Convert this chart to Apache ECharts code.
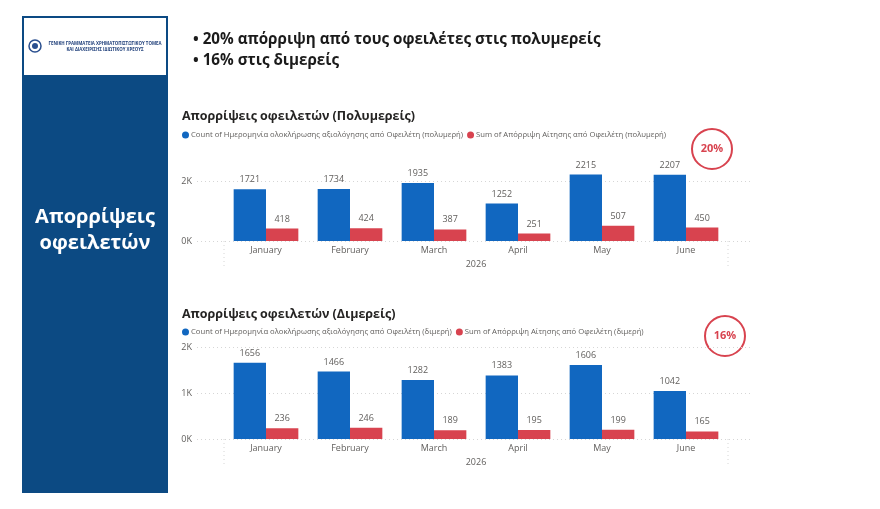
<!DOCTYPE html>
<html>
<head>
<meta charset="utf-8">
<title>Απορρίψεις οφειλετών</title>
<script src="https://cdn.jsdelivr.net/npm/echarts@6/dist/echarts.min.js"></script>
<style>
  html, body { margin: 0; padding: 0; background: #ffffff; }
  #main { width: 880px; height: 509px; }
</style>
</head>
<body>
<div id="main"></div>
<script>
// δεδομένα
var months = ['January', 'February', 'March', 'April', 'May', 'June'];
var yearLabel = '2026';

var countPoly = [1721, 1734, 1935, 1252, 2215, 2207];
var rejectPoly = [418, 424, 387, 251, 507, 450];
var countDi = [1656, 1466, 1282, 1383, 1606, 1042];
var rejectDi = [236, 246, 189, 195, 199, 165];

var ticksPoly = ['0K', '2K'];
var ticksDi = ['0K', '1K', '2K'];

var namePolyCount = 'Count of Ημερομηνία ολοκλήρωσης αξιολόγησης από Οφειλέτη (πολυμερή)';
var namePolyReject = 'Sum of Απόρριψη Αίτησης από Οφειλέτη (πολυμερή)';
var nameDiCount = 'Count of Ημερομηνία ολοκλήρωσης αξιολόγησης από Οφειλέτη (διμερή)';
var nameDiReject = 'Sum of Απόρριψη Αίτησης από Οφειλέτη (διμερή)';

var BLUE = '#1167c0';
var RED = '#d8434f';
var NAVY = '#0c4a83';
var GREY = '#605e5c';
var FONT = '"Open Sans", "Noto Sans", sans-serif';

var myChart = echarts.init(document.getElementById('main'));

function labelCfg() {
    return { show: true, position: 'top', distance: 5, color: GREY, fontSize: 9, fontFamily: FONT };
}

// γραμμές πλέγματος (ευρύτερες από την περιοχή των ράβδων)
function gridAxis(idx, ticks, interval) {
    return {
        gridIndex: idx, type: 'value', min: 0, max: 2000, interval: interval,
        axisLabel: {
            color: GREY, fontSize: 9, fontFamily: FONT, margin: 5,
            formatter: function (v) { return ticks[v / interval]; }
        },
        axisLine: { show: false }, axisTick: { show: false },
        splitLine: { show: true, lineStyle: { color: '#d6d6d6', type: [1, 3] } }
    };
}
function hiddenY(idx, max) {
    return { gridIndex: idx, type: 'value', min: 0, max: max, show: false, splitLine: { show: false } };
}
function catAxis(idx) {
    return {
        gridIndex: idx, type: 'category', data: months,
        axisLine: { show: false }, axisTick: { show: false },
        axisLabel: { color: GREY, fontSize: 9, fontFamily: FONT, margin: 5 },
        name: yearLabel, nameLocation: 'middle', nameGap: 19,
        nameTextStyle: { color: GREY, fontSize: 9, fontFamily: FONT }
    };
}
function dottedV(x, y1, y2) {
    return { type: 'line', shape: { x1: x, y1: y1, x2: x, y2: y2 },
        style: { stroke: '#d6d6d6', lineWidth: 1, lineDash: [1, 3] } };
}
function badge(cx, cy, txt) {
    return [
        { type: 'circle', shape: { cx: cx, cy: cy, r: 20 },
          style: { fill: '#fff', stroke: RED, lineWidth: 2 } },
        { type: 'text', x: cx, y: cy,
          style: { text: txt, fill: RED, font: 'bold 11px ' + FONT, align: 'center', verticalAlign: 'middle' } }
    ];
}
function legendCfg(names, top) {
    return { data: names, left: 177, top: top, icon: 'circle',
        itemWidth: 7, itemHeight: 7, itemGap: 4,
        textStyle: { color: GREY, fontSize: 7.7, fontFamily: FONT, padding: [0, 0, 0, -3] } };
}

var option = {
    backgroundColor: '#ffffff',
    animation: false,
    title: [
        { text: 'Απορρίψεις οφειλετών (Πολυμερείς)', left: 177, top: 105,
          textStyle: { color: '#252423', fontSize: 12.5, fontWeight: 'bold', fontFamily: FONT } },
        { text: 'Απορρίψεις οφειλετών (Διμερείς)', left: 177, top: 303,
          textStyle: { color: '#252423', fontSize: 12.5, fontWeight: 'bold', fontFamily: FONT } }
    ],
    legend: [
        legendCfg([namePolyCount, namePolyReject], 126),
        legendCfg([nameDiCount, nameDiReject], 323)
    ],
    grid: [
        { left: 197, right: 128, top: 181, height: 60 },
        { left: 224, width: 504, top: 166, height: 75 },
        { left: 197, right: 128, top: 347, height: 92 },
        { left: 224, width: 504, top: 347, height: 92 }
    ],
    xAxis: [
        { gridIndex: 0, type: 'category', show: false },
        catAxis(1),
        { gridIndex: 2, type: 'category', show: false },
        catAxis(3)
    ],
    yAxis: [
        gridAxis(0, ticksPoly, 2000),
        hiddenY(1, 2500),
        gridAxis(2, ticksDi, 1000),
        hiddenY(3, 2000)
    ],
    series: [
        { name: namePolyCount, type: 'bar', xAxisIndex: 1, yAxisIndex: 1, data: countPoly,
          itemStyle: { color: BLUE }, barGap: 0, barCategoryGap: '23%', label: labelCfg() },
        { name: namePolyReject, type: 'bar', xAxisIndex: 1, yAxisIndex: 1, data: rejectPoly,
          itemStyle: { color: RED }, barGap: 0, barCategoryGap: '23%', label: labelCfg() },
        { name: nameDiCount, type: 'bar', xAxisIndex: 3, yAxisIndex: 3, data: countDi,
          itemStyle: { color: BLUE }, barGap: 0, barCategoryGap: '23%', label: labelCfg() },
        { name: nameDiReject, type: 'bar', xAxisIndex: 3, yAxisIndex: 3, data: rejectDi,
          itemStyle: { color: RED }, barGap: 0, barCategoryGap: '23%', label: labelCfg() }
    ],
    graphic: [
        // λογότυπο
        { type: 'rect', shape: { x: 23, y: 17, width: 144, height: 59 },
          style: { fill: '#fff', stroke: NAVY, lineWidth: 2 } },
        { type: 'circle', shape: { cx: 35, cy: 46, r: 6 }, style: { fill: '#fff', stroke: '#2a4f8f', lineWidth: 1.5 } },
        { type: 'circle', shape: { cx: 35, cy: 46, r: 3 }, style: { fill: '#2a4f8f' } },
        { type: 'text', x: 105, y: 44, style: { text: 'ΓΕΝΙΚΗ ΓΡΑΜΜΑΤΕΙΑ ΧΡΗΜΑΤΟΠΙΣΤΩΤΙΚΟΥ ΤΟΜΕΑ',
          fill: '#1f3f7a', font: 'bold 4.4px ' + FONT, align: 'center', verticalAlign: 'middle' } },
        { type: 'text', x: 105, y: 50, style: { text: 'ΚΑΙ ΔΙΑΧΕΙΡΙΣΗΣ ΙΔΙΩΤΙΚΟΥ ΧΡΕΟΥΣ',
          fill: '#1f3f7a', font: 'bold 4.4px ' + FONT, align: 'center', verticalAlign: 'middle' } },
        // αριστερό πλαίσιο
        { type: 'rect', shape: { x: 22, y: 76, width: 146, height: 417 }, style: { fill: NAVY } },
        { type: 'text', x: 95, y: 217, style: { text: 'Απορρίψεις', fill: '#fff',
          font: 'bold 20px ' + FONT, align: 'center', verticalAlign: 'middle' } },
        { type: 'text', x: 95, y: 243, style: { text: 'οφειλετών', fill: '#fff',
          font: 'bold 20px ' + FONT, align: 'center', verticalAlign: 'middle' } },
        // κουκκίδες
        { type: 'text', x: 193, y: 40, style: { text: '• 20% απόρριψη από τους οφειλέτες στις πολυμερείς',
          fill: '#1b1b1b', font: 'bold 15.2px ' + FONT, verticalAlign: 'middle' } },
        { type: 'text', x: 193, y: 61, style: { text: '• 16% στις διμερείς',
          fill: '#1b1b1b', font: 'bold 15.2px ' + FONT, verticalAlign: 'middle' } },
        dottedV(224, 241, 268), dottedV(728, 241, 268),
        dottedV(224, 439, 466), dottedV(728, 439, 466)
    ].concat(badge(712, 149, '20%')).concat(badge(725, 336, '16%'))
};

myChart.setOption(option);
window.addEventListener('resize', function () {
    myChart.resize();
});
</script>
</body>
</html>
